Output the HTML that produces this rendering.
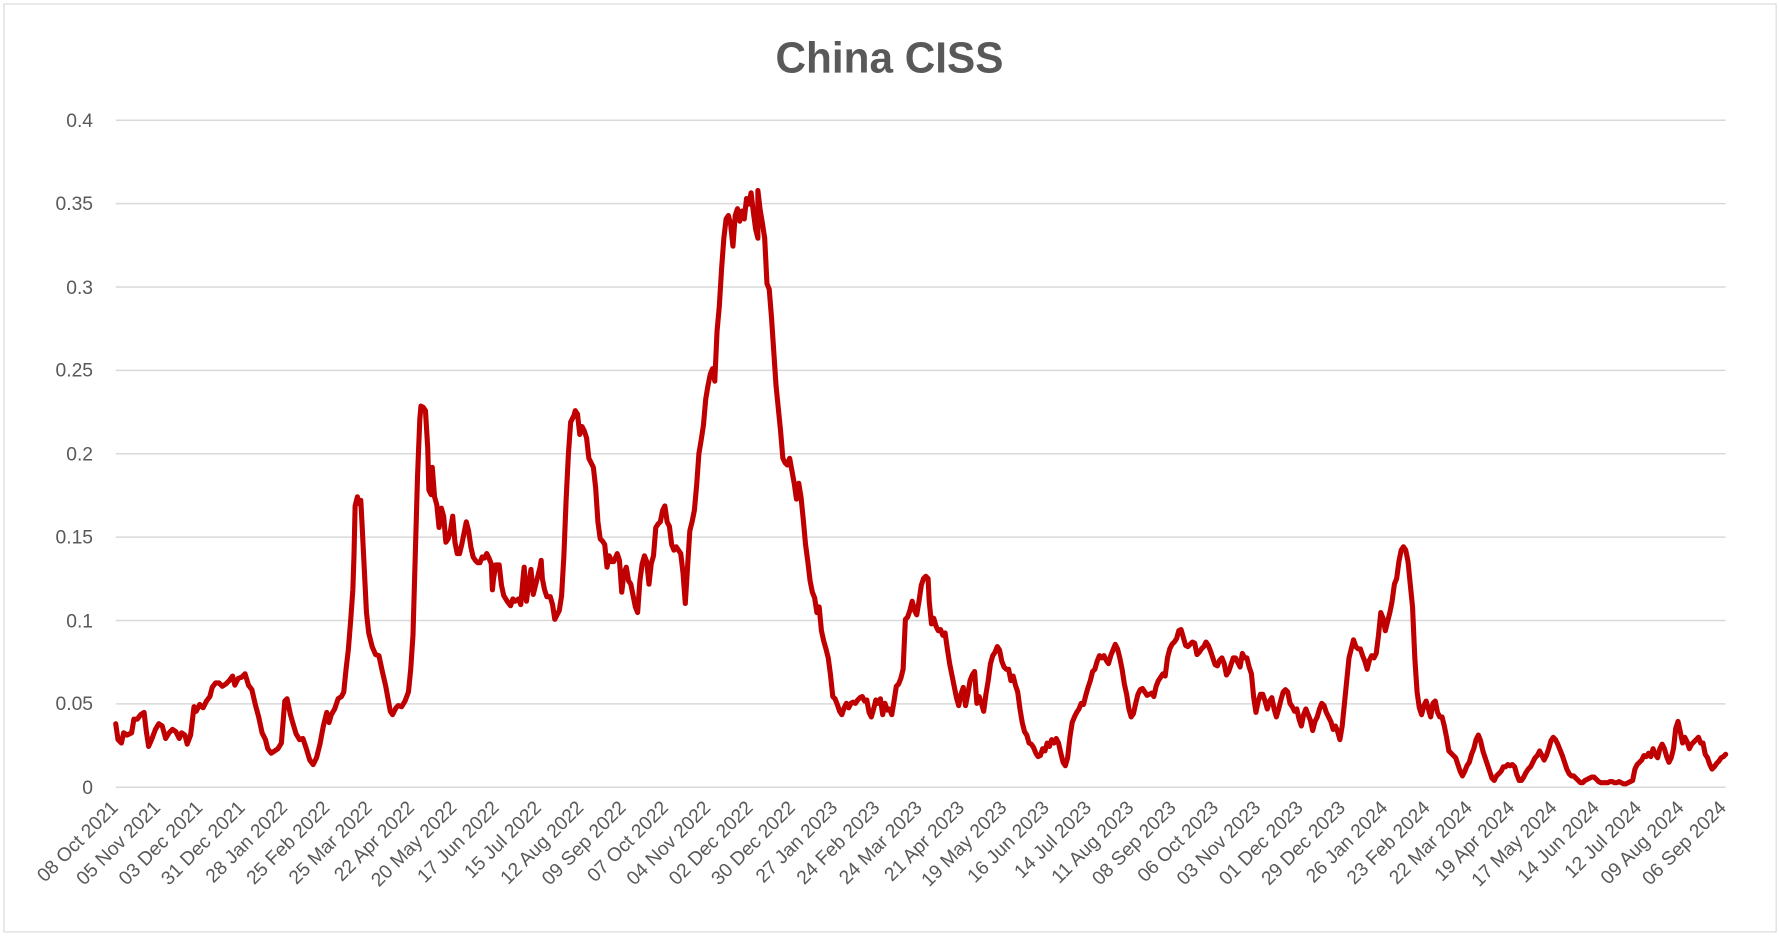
<!DOCTYPE html>
<html><head><meta charset="utf-8"><style>
html,body{margin:0;padding:0;background:#fff;overflow:hidden}
svg{display:block}
text{font-family:"Liberation Sans",sans-serif;fill:#595959}
</style></head><body>
<svg width="1779" height="937" viewBox="0 0 1568 826" preserveAspectRatio="none" xmlns="http://www.w3.org/2000/svg">
<rect x="0" y="0" width="1568" height="826" fill="#fff"/>
<rect x="3.5" y="3.5" width="1562" height="818" fill="none" stroke="#d9d9d9" stroke-width="1"/>
<text x="784" y="64" text-anchor="middle" font-size="38" font-weight="bold" textLength="201" lengthAdjust="spacingAndGlyphs">China CISS</text>
<g stroke="#d9d9d9" stroke-width="1.3">
<line x1="102" x2="1521" y1="694" y2="694"/><line x1="102" x2="1521" y1="620.5" y2="620.5"/>
<line x1="102" x2="1521" y1="547" y2="547"/><line x1="102" x2="1521" y1="473.5" y2="473.5"/>
<line x1="102" x2="1521" y1="400" y2="400"/><line x1="102" x2="1521" y1="326.5" y2="326.5"/>
<line x1="102" x2="1521" y1="253" y2="253"/><line x1="102" x2="1521" y1="179.5" y2="179.5"/>
<line x1="102" x2="1521" y1="106" y2="106"/>
</g>
<g font-size="17" text-anchor="end">
<text x="82" y="700">0</text><text x="82" y="626">0.05</text><text x="82" y="553">0.1</text>
<text x="82" y="479">0.15</text><text x="82" y="406">0.2</text><text x="82" y="332">0.25</text>
<text x="82" y="259">0.3</text><text x="82" y="185">0.35</text><text x="82" y="112">0.4</text>
</g>
<polyline fill="none" stroke="#c00000" stroke-width="4.5" stroke-linejoin="round" stroke-linecap="round" points="102,638 104,652 107,655 109,646 112,648 116,646 118,634 121,634 124,630 127,628 129,645 131,658 134,651 137,643 140,638 143,640 146,651 149,646 152,643 155,645 158,651 160,646 163,648 165,656 168,648 171,623 173,627 176,621 179,624 182,618 185,614 187,606 190,602 193,602 196,605 199,603 202,600 205,596 207,604 210,598 213,597 216,594 219,604 222,608 225,621 228,632 231,646 234,652 236,660 239,664 242,662 245,660 248,655 251,618 253,616 256,630 258,637 261,647 264,652 267,651 270,660 273,670 276,674 279,668 282,656 285,640 288,628 290,637 292,630 295,625 298,616 301,614 303,610 305,590 307,573 309,548 311,520 312,490 313,446 315,438 316,444 318,441 319,460 321,500 323,540 325,558 328,570 331,577 334,578 337,592 340,605 342,616 344,627 346,630 349,624 351,622 354,623 357,618 360,610 362,590 364,560 366,490 368,420 370,370 371,358 373,359 375,362 377,395 378,432 380,436 381,412 383,438 385,445 387,465 389,448 391,455 393,478 395,475 397,468 399,455 401,478 403,488 405,488 407,480 409,470 411,460 413,468 415,482 417,491 419,494 421,496 423,496 425,491 427,492 429,488 431,492 433,497 434,520 435,510 437,498 440,498 442,516 444,525 447,530 450,534 452,528 454,530 457,528 459,533 461,510 462,500 464,530 466,515 468,502 470,524 473,512 476,500 477,494 478,510 480,520 482,526 485,526 487,533 489,546 491,542 493,538 495,525 497,490 499,440 501,400 503,372 506,366 507,362 509,365 511,383 513,376 515,380 517,386 519,404 521,408 523,412 525,430 527,460 529,475 531,477 533,480 535,500 537,490 539,495 541,495 544,488 546,494 548,522 550,505 552,500 554,512 556,515 558,525 560,535 562,540 564,512 566,497 568,490 570,495 572,515 574,497 576,490 578,465 580,462 582,460 584,450 586,446 588,460 590,464 592,480 594,485 596,482 598,485 600,488 602,505 604,532 606,500 608,468 610,460 612,450 614,428 616,400 618,388 620,375 622,352 624,340 626,330 628,325 630,336 632,292 634,270 636,237 638,210 640,193 642,190 644,198 646,217 648,190 650,184 652,195 654,186 656,193 658,175 660,180 662,170 664,187 666,202 668,210 668,168 670,185 672,197 674,210 676,250 678,255 680,280 682,310 684,340 686,360 688,380 690,404 692,408 694,410 696,404 698,415 700,426 702,440 704,426 706,438 708,458 710,480 712,495 714,512 716,522 718,527 720,540 722,535 724,556 726,565 728,572 730,580 732,595 734,614 736,616 738,621 740,627 742,630 744,624 746,620 748,624 750,620 752,619 754,620 756,617 758,615 760,614 762,618 764,617 766,628 768,632 770,625 772,617 774,620 776,616 778,630 780,620 782,626 784,625 786,630 788,618 790,605 792,603 794,598 796,590 798,546 800,544 802,538 804,530 806,538 808,542 810,530 812,516 814,510 816,508 818,510 819,530 821,550 823,545 825,552 827,556 829,555 831,560 833,558 835,572 837,585 839,595 841,605 843,615 845,622 847,612 849,606 851,622 853,612 855,600 857,595 859,592 861,620 863,614 865,620 867,627 869,612 871,600 873,585 875,578 877,575 879,570 881,573 883,583 885,588 887,590 889,590 891,600 893,596 895,604 897,610 899,625 901,637 903,645 905,648 907,655 909,656 911,659 913,664 915,667 917,666 919,660 921,662 923,655 925,658 927,652 929,655 931,651 933,655 935,664 937,672 939,675 941,668 943,650 945,637 947,632 949,628 951,625 953,620 955,621 957,613 959,606 961,600 963,592 965,590 967,583 969,578 971,580 973,578 975,582 977,585 979,578 981,573 983,568 985,572 987,580 989,590 991,603 993,612 995,625 997,632 999,629 1001,620 1003,612 1005,608 1007,607 1009,610 1011,613 1013,612 1015,611 1017,614 1019,605 1021,600 1023,597 1025,594 1027,596 1029,580 1031,572 1033,568 1035,566 1037,563 1039,556 1041,555 1043,562 1045,569 1047,570 1049,568 1051,566 1053,567 1055,577 1057,575 1059,572 1061,570 1063,566 1065,569 1067,574 1069,580 1071,586 1073,587 1075,582 1077,580 1079,585 1081,595 1083,592 1085,586 1087,580 1089,580 1091,584 1093,588 1095,576 1097,580 1099,580 1101,588 1103,594 1105,615 1107,628 1109,618 1111,612 1113,612 1115,618 1117,625 1119,618 1121,615 1123,625 1125,632 1127,625 1129,617 1131,610 1133,608 1135,610 1137,620 1139,623 1141,627 1143,625 1145,634 1147,640 1149,630 1151,625 1153,630 1155,635 1157,644 1159,636 1161,632 1163,625 1165,620 1167,622 1169,628 1171,632 1173,636 1175,643 1177,640 1179,645 1181,652 1183,640 1185,620 1187,600 1189,580 1191,572 1193,564 1195,570 1197,572 1199,572 1201,578 1203,583 1205,590 1207,582 1209,578 1211,580 1213,576 1215,560 1217,540 1219,545 1221,556 1223,548 1225,540 1227,530 1229,515 1231,510 1233,495 1235,485 1237,482 1239,485 1241,495 1243,515 1245,535 1247,580 1249,610 1251,624 1253,630 1255,622 1257,618 1259,625 1261,632 1263,620 1265,618 1267,628 1269,632 1271,632 1273,640 1275,650 1277,662 1279,664 1281,666 1283,668 1285,674 1287,680 1289,684 1291,680 1293,675 1295,672 1297,665 1299,660 1301,652 1303,648 1305,653 1307,662 1309,668 1311,674 1313,680 1315,686 1317,688 1319,684 1321,682 1323,680 1325,676 1327,676 1329,674 1331,675 1333,674 1335,676 1337,683 1339,688 1341,688 1343,685 1345,681 1347,678 1349,676 1351,672 1353,668 1355,666 1357,662 1359,666 1361,670 1363,666 1365,660 1367,653 1369,650 1371,652 1373,656 1375,661 1377,666 1379,672 1381,678 1383,682 1385,684 1387,684 1389,686 1391,688 1393,690 1395,690 1397,688 1399,687 1401,686 1403,685 1405,685 1407,687 1409,689 1411,690 1413,690 1415,690 1417,690 1419,689 1421,689 1423,690 1425,690 1427,689 1429,690 1431,691 1433,691 1435,690 1437,689 1439,688 1441,678 1443,674 1445,672 1447,670 1449,666 1451,667 1453,664 1455,667 1457,660 1459,665 1461,668 1463,660 1465,656 1467,660 1469,667 1471,672 1473,668 1475,660 1477,642 1479,636 1481,645 1483,655 1485,650 1487,654 1489,660 1491,656 1493,654 1495,652 1497,650 1499,655 1501,655 1503,665 1505,668 1507,674 1509,678 1511,676 1513,673 1515,671 1517,668 1519,667 1521,665"/>
<g font-size="17" text-anchor="end">
<text transform="translate(105,713) rotate(-45)">08 Oct 2021</text>
<text transform="translate(142.3,713) rotate(-45)">05 Nov 2021</text>
<text transform="translate(179.6,713) rotate(-45)">03 Dec 2021</text>
<text transform="translate(216.9,713) rotate(-45)">31 Dec 2021</text>
<text transform="translate(254.2,713) rotate(-45)">28 Jan 2022</text>
<text transform="translate(291.5,713) rotate(-45)">25 Feb 2022</text>
<text transform="translate(328.8,713) rotate(-45)">25 Mar 2022</text>
<text transform="translate(366.1,713) rotate(-45)">22 Apr 2022</text>
<text transform="translate(403.4,713) rotate(-45)">20 May 2022</text>
<text transform="translate(440.7,713) rotate(-45)">17 Jun 2022</text>
<text transform="translate(478,713) rotate(-45)">15 Jul 2022</text>
<text transform="translate(515.3,713) rotate(-45)">12 Aug 2022</text>
<text transform="translate(552.6,713) rotate(-45)">09 Sep 2022</text>
<text transform="translate(589.9,713) rotate(-45)">07 Oct 2022</text>
<text transform="translate(627.2,713) rotate(-45)">04 Nov 2022</text>
<text transform="translate(664.5,713) rotate(-45)">02 Dec 2022</text>
<text transform="translate(701.8,713) rotate(-45)">30 Dec 2022</text>
<text transform="translate(739.1,713) rotate(-45)">27 Jan 2023</text>
<text transform="translate(776.4,713) rotate(-45)">24 Feb 2023</text>
<text transform="translate(813.7,713) rotate(-45)">24 Mar 2023</text>
<text transform="translate(851,713) rotate(-45)">21 Apr 2023</text>
<text transform="translate(888.3,713) rotate(-45)">19 May 2023</text>
<text transform="translate(925.6,713) rotate(-45)">16 Jun 2023</text>
<text transform="translate(962.9,713) rotate(-45)">14 Jul 2023</text>
<text transform="translate(1000.2,713) rotate(-45)">11 Aug 2023</text>
<text transform="translate(1037.5,713) rotate(-45)">08 Sep 2023</text>
<text transform="translate(1074.8,713) rotate(-45)">06 Oct 2023</text>
<text transform="translate(1112.1,713) rotate(-45)">03 Nov 2023</text>
<text transform="translate(1149.4,713) rotate(-45)">01 Dec 2023</text>
<text transform="translate(1186.7,713) rotate(-45)">29 Dec 2023</text>
<text transform="translate(1224,713) rotate(-45)">26 Jan 2024</text>
<text transform="translate(1261.3,713) rotate(-45)">23 Feb 2024</text>
<text transform="translate(1298.6,713) rotate(-45)">22 Mar 2024</text>
<text transform="translate(1335.9,713) rotate(-45)">19 Apr 2024</text>
<text transform="translate(1373.2,713) rotate(-45)">17 May 2024</text>
<text transform="translate(1410.5,713) rotate(-45)">14 Jun 2024</text>
<text transform="translate(1447.8,713) rotate(-45)">12 Jul 2024</text>
<text transform="translate(1485.1,713) rotate(-45)">09 Aug 2024</text>
<text transform="translate(1522.4,713) rotate(-45)">06 Sep 2024</text>
</g>
</svg>
</body></html>
